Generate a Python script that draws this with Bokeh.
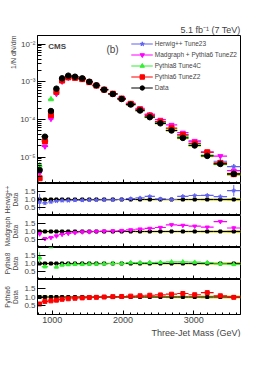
import numpy as np
from bokeh.plotting import figure
from bokeh.layouts import column
from bokeh.models import (Range1d, Title, Label, Legend, LegendItem, FixedTicker,
                          SingleIntervalTicker, PrintfTickFormatter, CustomJSTickFormatter,
                          ColumnDataSource)
from bokeh.embed import file_html
from bokeh.resources import INLINE

# ---------------- data ----------------
edges = [790, 850, 940, 1020, 1095, 1180, 1270, 1370, 1475, 1570, 1675, 1790, 1920,
         2040, 2175, 2305, 2450, 2605, 2765, 2925, 3100, 3280, 3470, 3660]
data = [4.6e-6, 3.5e-5, 1.68e-4, 6.6e-4, 1.24e-3, 1.46e-3, 1.37e-3, 1.24e-3, 1.01e-3,
        8.1e-4, 6.2e-4, 4.75e-4, 3.5e-4, 2.49e-4, 1.73e-4, 1.15e-4, 7.9e-5, 5.1e-5,
        3.24e-5, 2.04e-5, 1.08e-5, 6.6e-6, 3.6e-6]
data_rel_err = [0.10, 0.08, 0.07, 0.06, 0.05, 0.05, 0.05, 0.05, 0.05, 0.05, 0.05, 0.05,
                0.05, 0.05, 0.06, 0.06, 0.06, 0.07, 0.07, 0.07, 0.08, 0.08, 0.09]

herwig_ratio = [0.85, 0.78, 0.85, 0.90, 0.93, 0.93, 0.95, 0.95, 0.97, 0.97, 0.98, 0.98,
                1.00, 1.05, 1.10, 1.19, 1.04, 1.00, 1.20, 1.25, 1.26, 1.18, 1.56]
herwig_err = [0.50, 0.12, 0.06, 0.04, 0.03, 0.03, 0.03, 0.03, 0.03, 0.03, 0.03, 0.03,
              0.03, 0.04, 0.04, 0.05, 0.05, 0.06, 0.07, 0.08, 0.09, 0.12, 0.35]
madgraph_ratio = [0.85, 0.55, 0.62, 0.72, 0.82, 0.88, 0.93, 0.97, 0.98, 1.00, 1.02, 1.03,
                  1.06, 1.10, 1.15, 1.19, 1.25, 1.42, 1.38, 1.33, 1.27, 1.62, 1.22]
madgraph_err = [0.15, 0.06, 0.04, 0.03, 0.02, 0.02, 0.02, 0.02, 0.02, 0.02, 0.02, 0.02,
                0.02, 0.03, 0.03, 0.03, 0.04, 0.04, 0.05, 0.05, 0.06, 0.08, 0.10]
pythia8_ratio = [1.35, 0.80, 2.05, 0.78, 0.90, 0.93, 0.95, 0.95, 0.97, 0.97, 0.98, 1.00,
                 1.00, 1.05, 1.05, 1.06, 1.07, 1.10, 1.10, 1.08, 1.05, 0.98, 0.94]
pythia8_err = [0.35, 0.10, 0.05, 0.04, 0.03, 0.03, 0.03, 0.03, 0.03, 0.03, 0.03, 0.03,
               0.03, 0.03, 0.03, 0.03, 0.04, 0.04, 0.04, 0.05, 0.05, 0.06, 0.07]
pythia6_ratio = [0.60, 0.75, 0.78, 0.82, 0.87, 0.90, 0.93, 0.95, 0.97, 0.98, 1.00, 1.02,
                 1.03, 1.05, 1.07, 1.10, 1.12, 1.16, 1.20, 1.13, 1.25, 1.07, 0.98]
pythia6_err = [0.06, 0.03, 0.02, 0.02, 0.02, 0.02, 0.02, 0.02, 0.02, 0.02, 0.02, 0.02,
               0.02, 0.02, 0.02, 0.03, 0.03, 0.03, 0.03, 0.04, 0.04, 0.05, 0.05]

x_ticks = [1000, 2000, 3000]
ratio_ticks = [0.5, 1.0, 1.5]

# ---------------- styles ----------------
FONT = "Liberation Sans"
C_HER, C_MAD, C_PY8, C_PY6, C_DAT = "#6262f2", "#ff00ff", "#33ee33", "#ff0000", "#000000"
C_BAND = "#d2d232"
FW = 203

lo = np.array(edges[:-1], dtype=float)
hi = np.array(edges[1:], dtype=float)
xc = 0.5 * (lo + hi)
d = np.array(data)
derr = np.array(data_rel_err)

xr = Range1d(790, 3660)

sup = CustomJSTickFormatter(code="""
const m = {'-':'\u207b','0':'\u2070','1':'\u00b9','2':'\u00b2','3':'\u00b3','4':'\u2074',
           '5':'\u2075','6':'\u2076','7':'\u2077','8':'\u2078','9':'\u2079'};
const e = Math.round(Math.log10(tick));
return '10' + String(e).split('').map(c => m[c]).join('');
""")


def style_axes(p, xlabels=False):
    p.grid.visible = False
    p.outline_line_color = "black"
    p.outline_line_width = 1
    for ax in (p.xaxis[0], p.yaxis[0]):
        ax.major_tick_out = 0
        ax.minor_tick_out = 0
        ax.axis_line_color = "black"
        ax.major_label_text_font = FONT
        ax.axis_label_text_font = FONT
    p.xaxis[0].ticker = SingleIntervalTicker(interval=1000, num_minor_ticks=10)
    p.xaxis[0].major_tick_in = 4
    p.xaxis[0].minor_tick_in = 2
    if xlabels:
        p.xaxis[0].major_label_text_font_size = "9px"
        p.xaxis[0].major_label_standoff = 2
    else:
        p.xaxis[0].formatter = CustomJSTickFormatter(code="return ''")
        p.xaxis[0].major_label_text_font_size = "1px"
        p.xaxis[0].major_label_standoff = 0


# ---------------- main panel ----------------
p = figure(frame_width=FW, frame_height=148, x_range=xr, y_range=Range1d(2.0e-6, 1.7e-2),
           y_axis_type="log", output_backend="svg", toolbar_location=None,
           min_border_left=36, min_border_right=11, min_border_top=35, min_border_bottom=0)
style_axes(p)
p.yaxis[0].major_tick_in = 8
p.yaxis[0].minor_tick_in = 4
p.yaxis[0].formatter = sup
p.yaxis[0].major_label_text_font_size = "8px"
p.yaxis[0].major_label_standoff = 2

p.title.text = "5.1 fb\u207b\u00b9 (7 TeV)"
p.title.align = "right"
p.title.text_font = FONT
p.title.text_font_style = "normal"
p.title.text_font_size = "9px"
p.title.standoff = 2

p.add_layout(Title(text="1/N dN/dm", align="right", text_font=FONT, text_font_size="7px",
                   text_font_style="normal", standoff=2), "left")

p.quad(left=lo, right=hi, bottom=d * (1 - derr), top=d * (1 + derr),
       fill_color=C_BAND, line_color=None)

items = []
specs = [("Herwig++ Tune23", herwig_ratio, herwig_err, C_HER, "star", 4.5),
         ("Madgraph + Pythia6 TuneZ2", madgraph_ratio, madgraph_err, C_MAD, "inverted_triangle", 5),
         ("Pythia8 Tune4C", pythia8_ratio, pythia8_err, C_PY8, "triangle", 5),
         ("Pythia6 TuneZ2", pythia6_ratio, pythia6_err, C_PY6, "square", 5)]
for name, rat, err, col, mk, sz in specs:
    y = d * np.array(rat)
    ye = y * np.array(err) * 0.5
    src = ColumnDataSource(dict(lo=lo, hi=hi, x=xc, y=y, y0=y - ye, y1=y + ye))
    hl = p.segment(x0="lo", x1="hi", y0="y", y1="y", source=src, line_color=col, line_width=1.2)
    p.segment(x0="x", x1="x", y0="y0", y1="y1", source=src, line_color=col, line_width=1)
    sc = p.scatter(x="x", y="y", source=src, marker=mk, size=sz, fill_color=col, line_color=col)
    items.append(LegendItem(label=name, renderers=[hl, sc]))

srcd = ColumnDataSource(dict(lo=lo, hi=hi, x=xc, y=d))
hl = p.segment(x0="lo", x1="hi", y0="y", y1="y", source=srcd, line_color=C_DAT, line_width=1.2)
sc = p.scatter(x="x", y="y", source=srcd, marker="circle", size=5.5, fill_color=C_DAT, line_color=C_DAT)
items.append(LegendItem(label="Data", renderers=[hl, sc]))

leg = Legend(items=items, location="top_right", label_text_font=FONT, label_text_font_size="6.5px",
             glyph_width=22, glyph_height=11, label_height=11, label_standoff=2, spacing=0,
             padding=3, margin=0, background_fill_alpha=0, border_line_alpha=0)
p.add_layout(leg)

p.add_layout(Label(x=943, y=8.7e-3, text="CMS", text_font=FONT, text_font_style="bold",
                   text_font_size="8px", text_baseline="middle"))
p.add_layout(Label(x=1851, y=7.2e-3, text="(b)", text_font=FONT, text_font_size="10px",
                   text_align="center", text_baseline="middle"))


# ---------------- ratio panels ----------------
def ratio_panel(rat, err, col, mk, sz, label, fh, last=False):
    r = figure(frame_width=FW, frame_height=fh, x_range=xr, y_range=Range1d(0.0, 2.0),
               output_backend="svg", toolbar_location=None,
               min_border_left=36, min_border_right=11, min_border_top=0, min_border_bottom=0)
    style_axes(r, xlabels=last)
    r.yaxis[0].ticker = FixedTicker(ticks=ratio_ticks)
    r.yaxis[0].formatter = PrintfTickFormatter(format="%.1f")
    r.yaxis[0].major_tick_in = 8
    r.yaxis[0].major_label_text_font_size = "8px"
    r.yaxis[0].major_label_standoff = 2
    r.yaxis[0].axis_label = label
    r.yaxis[0].axis_label_text_font_size = "6.5px"
    r.yaxis[0].axis_label_text_font_style = "normal"
    r.yaxis[0].axis_label_standoff = 2
    r.quad(left=lo, right=hi, bottom=1 - derr, top=1 + derr, fill_color=C_BAND, line_color=None)
    ones = np.ones_like(xc)
    r.segment(x0=lo, x1=hi, y0=ones, y1=ones, line_color=C_DAT, line_width=1.2)
    r.scatter(x=xc, y=ones, marker="square", size=3, fill_color=C_DAT, line_color=C_DAT)
    rr = np.array(rat)
    ee = np.array(err)
    r.segment(x0=lo, x1=hi, y0=rr, y1=rr, line_color=col, line_width=1.2)
    r.segment(x0=xc, x1=xc, y0=rr - ee, y1=rr + ee, line_color=col, line_width=1)
    r.scatter(x=xc, y=rr, marker=mk, size=sz, fill_color=col, line_color=col)
    if last:
        r.add_layout(Title(text="Three-Jet Mass (GeV)", align="right", text_font=FONT,
                           text_font_size="9px", text_font_style="normal", standoff=0), "below")
    return r


r1 = ratio_panel(herwig_ratio, herwig_err, C_HER, "star", 4, "Herwig++\nData", 32)
r2 = ratio_panel(madgraph_ratio, madgraph_err, C_MAD, "inverted_triangle", 4, "Madgraph\nData", 32)
r3 = ratio_panel(pythia8_ratio, pythia8_err, C_PY8, "triangle", 4, "Pythia8\nData", 32)
r4 = ratio_panel(pythia6_ratio, pythia6_err, C_PY6, "square", 4, "Pythia6\nData", 35, last=True)

layout = column(p, r1, r2, r3, r4, spacing=0)
open("out.html", "w").write(file_html(layout, INLINE))
